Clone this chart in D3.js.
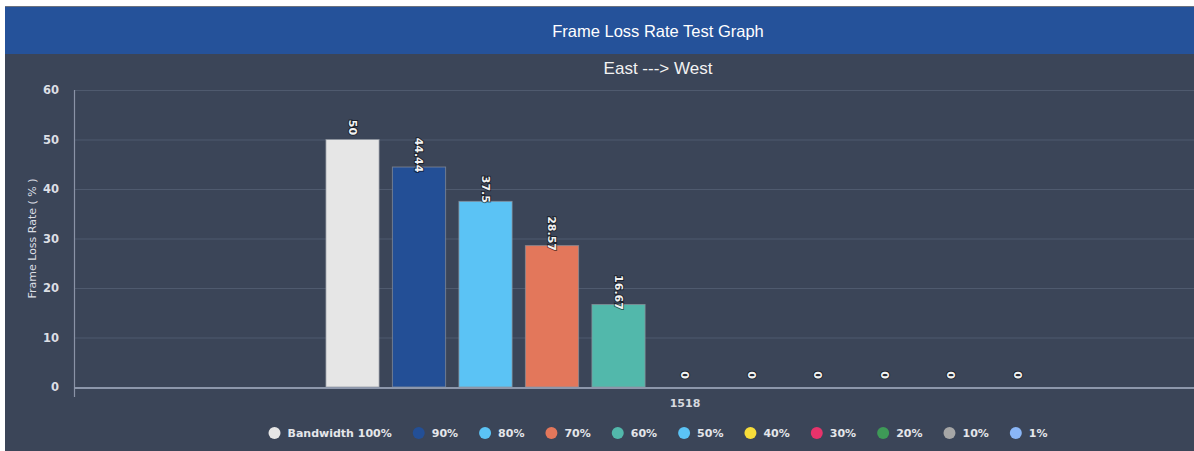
<!DOCTYPE html>
<html>
<head>
<meta charset="utf-8">
<script src="https://cdn.jsdelivr.net/npm/d3@7"></script>
<style>
  body { margin: 0; background: #ffffff; }
  svg { display: block; font-family: "Liberation Sans", Arial, sans-serif; }
</style>
</head>
<body>
<div id="FRAME_LOSS_CHART"></div>
<script>
// chart values
var categories = ["1518"];
var seriesNames = ["Bandwidth 100%", "90%", "80%", "70%", "60%", "50%", "40%", "30%", "20%", "10%", "1%"];
var seriesValues = [50, 44.44, 37.5, 28.57, 16.67, 0, 0, 0, 0, 0, 0];
var seriesColors = ["#e6e6e6", "#234f96", "#5bc3f5", "#e3775b", "#52b8ab", "#5bc3f5",
                    "#f7dd3a", "#e7336b", "#3e9a57", "#a6a6a6", "#8ab6f7"];
var yTicks = [0, 10, 20, 30, 40, 50, 60];

var WIDTH = 1194, HEIGHT = 451;
var PANEL = { LEFT: 5, TOP: 7, WIDTH: 1306, HEIGHT: 444 };
var PLOT = { LEFT: 74, RIGHT: 1296, TOP: 90, BOTTOM: 387 };

var svg = d3.select("#FRAME_LOSS_CHART")
    .append("svg")
    .attr("width", WIDTH)
    .attr("height", HEIGHT);

// panel + header
svg.append("rect")
    .attr("x", PANEL.LEFT).attr("y", PANEL.TOP - 1)
    .attr("width", PANEL.WIDTH).attr("height", PANEL.HEIGHT + 1)
    .attr("fill", "#3b4558");
svg.append("rect")
    .attr("x", PANEL.LEFT).attr("y", PANEL.TOP - 1)
    .attr("width", PANEL.WIDTH).attr("height", 1)
    .attr("fill", "#6b7280");
svg.append("rect")
    .attr("x", PANEL.LEFT).attr("y", PANEL.TOP)
    .attr("width", PANEL.WIDTH).attr("height", 47)
    .attr("fill", "#25529a");

var centerX = PANEL.LEFT + PANEL.WIDTH / 2;

svg.append("text")
    .attr("x", centerX).attr("y", 37)
    .attr("text-anchor", "middle")
    .attr("fill", "#ffffff")
    .style("font-size", "16.5px")
    .text("Frame Loss Rate Test Graph");

svg.append("text")
    .attr("x", centerX).attr("y", 74)
    .attr("text-anchor", "middle")
    .attr("fill", "#f2f2f2")
    .style("font-size", "17px")
    .text("East ---> West");

// scales
var y = d3.scaleLinear()
    .domain([0, 60])
    .range([PLOT.BOTTOM, PLOT.TOP]);

var x0 = d3.scaleBand()
    .domain(categories)
    .range([PLOT.LEFT, PLOT.RIGHT])
    .paddingInner(0)
    .paddingOuter(0.3353);

var x1 = d3.scaleBand()
    .domain(seriesNames)
    .range([0, x0.bandwidth()])
    .paddingInner(0.2)
    .paddingOuter(0.1);

var color = d3.scaleOrdinal()
    .domain(seriesNames)
    .range(seriesColors);

// gridlines
svg.append("g")
    .selectAll("line")
    .data(yTicks.filter(function(d) { return d > 0; }))
    .enter()
    .append("line")
    .attr("x1", PLOT.LEFT).attr("x2", PANEL.LEFT + PANEL.WIDTH)
    .attr("y1", function(d) { return y(d) + 0.5; })
    .attr("y2", function(d) { return y(d) + 0.5; })
    .attr("stroke", "#4f5a6e")
    .attr("stroke-width", 1.2);

// y axis
var yAxis = svg.append("g")
    .attr("transform", "translate(" + PLOT.LEFT + ",0)")
    .call(d3.axisLeft(y).tickValues(yTicks).tickSize(0).tickPadding(15));
yAxis.select(".domain").remove();
yAxis.selectAll("text")
    .attr("fill", "#dcdfe5")
    .style("font-size", "11.5px")
    .style("font-weight", "bold")
    .style("font-family", "'DejaVu Sans', sans-serif");

svg.append("line")
    .attr("x1", PLOT.LEFT + 0.5).attr("x2", PLOT.LEFT + 0.5)
    .attr("y1", PLOT.TOP).attr("y2", PLOT.BOTTOM + 10)
    .attr("stroke", "#8a93a6")
    .attr("stroke-width", 1.2);

svg.append("text")
    .attr("transform", "translate(36," + ((PLOT.TOP + PLOT.BOTTOM) / 2) + ") rotate(-90)")
    .attr("text-anchor", "middle")
    .attr("fill", "#dcdfe5")
    .style("font-size", "11px")
    .style("font-family", "'DejaVu Sans', sans-serif")
    .text("Frame Loss Rate ( % )");

// bars
var groups = svg.selectAll("allGroups")
    .data(categories)
    .enter()
    .append("g")
    .attr("transform", function(d) { return "translate(" + x0(d) + ",0)"; });

var barData = seriesNames.map(function(name, i) { return { name: name, value: seriesValues[i] }; });

groups.selectAll("rect")
    .data(barData)
    .enter()
    .append("rect")
    .attr("x", function(d) { return x1(d.name); })
    .attr("y", function(d) { return y(d.value); })
    .attr("width", x1.bandwidth())
    .attr("height", function(d) { return y(0) - y(d.value); })
    .attr("fill", function(d) { return color(d.name); })
    .attr("stroke", "rgba(140,145,155,0.7)")
    .attr("stroke-width", 1);

// x axis baseline
svg.append("line")
    .attr("x1", PLOT.LEFT).attr("x2", PANEL.LEFT + PANEL.WIDTH)
    .attr("y1", PLOT.BOTTOM + 1).attr("y2", PLOT.BOTTOM + 1)
    .attr("stroke", "#8d97ab")
    .attr("stroke-width", 2);

// data labels, rotated
groups.selectAll("text")
    .data(barData)
    .enter()
    .append("text")
    .attr("transform", function(d) {
        return "translate(" + (x1(d.name) + x1.bandwidth() / 2) + "," + (y(d.value) - 12) + ") rotate(90)";
    })
    .attr("text-anchor", "middle")
    .attr("dy", "0.35em")
    .attr("fill", "#f2f2f2")
    .attr("stroke", "rgba(0,0,0,0.5)")
    .attr("stroke-width", 2)
    .attr("paint-order", "stroke")
    .style("font-size", "11px")
    .style("font-weight", "bold")
    .style("font-family", "'DejaVu Sans', sans-serif")
    .text(function(d) { return d.value; });

// category label
svg.append("g")
    .selectAll("text")
    .data(categories)
    .enter()
    .append("text")
    .attr("x", function(d) { return x0(d) + x0.bandwidth() / 2; })
    .attr("y", PLOT.BOTTOM + 20)
    .attr("text-anchor", "middle")
    .attr("fill", "#d6d9df")
    .style("font-size", "11px")
    .style("font-weight", "bold")
    .style("font-family", "'DejaVu Sans', sans-serif")
    .text(function(d) { return d; });

// legend
var legend = svg.append("g");
var items = legend.selectAll("g")
    .data(seriesNames)
    .enter()
    .append("g");

items.append("circle")
    .attr("cx", 6).attr("cy", 0).attr("r", 6)
    .attr("fill", function(d) { return color(d); });

items.append("text")
    .attr("x", 19).attr("y", 0).attr("dy", "0.35em")
    .attr("fill", "#e4e6ea")
    .style("font-size", "11px")
    .style("font-weight", "bold")
    .style("font-family", "'DejaVu Sans', sans-serif")
    .text(function(d) { return d; });

var GAP = 21;
var cursor = 0;
items.each(function() {
    var g = d3.select(this);
    var w = 19 + g.select("text").node().getComputedTextLength();
    g.attr("transform", "translate(" + cursor + ",0)");
    cursor += w + GAP;
});
var legendWidth = cursor - GAP;
legend.attr("transform", "translate(" + (centerX - legendWidth / 2) + ",433)");
</script>
</body>
</html>
